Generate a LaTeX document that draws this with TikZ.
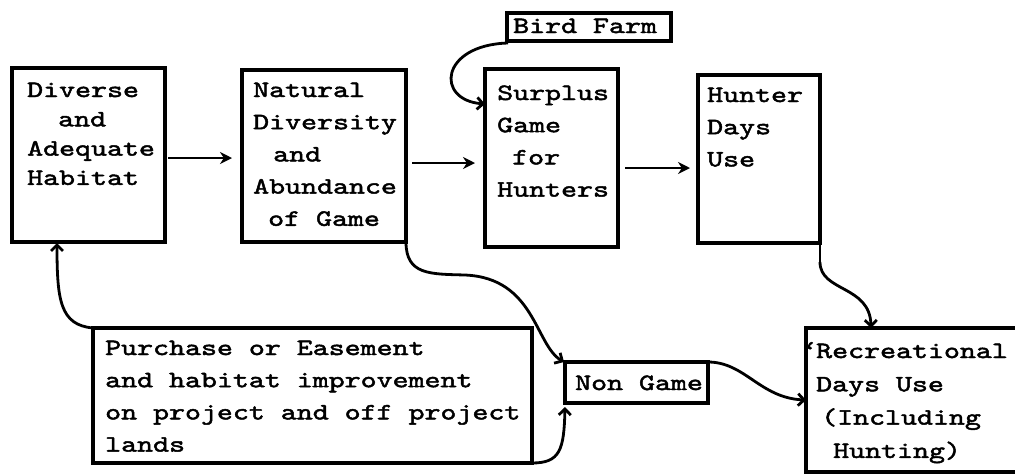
\documentclass[tikz,border=0pt]{standalone}
\usepackage{fontspec}
\newfontfamily\tw[FakeStretch=1.3,FakeBold=2]{lmmono10-regular.otf}
\usetikzlibrary{arrows.meta,calc}
\newcommand\fA{\tw\fontsize{23.4}{29.3}\selectfont}
\newcommand\fB{\tw\fontsize{23.4}{32.2}\selectfont}
\newcommand\fC{\tw\fontsize{23.4}{33.3}\selectfont}
\newcommand\ind[1]{\hspace*{#1pt}}
\newcommand\spc{\hspace{15.97pt}}
\tikzset{
  frame/.style={draw, line width=3.2pt, inner sep=0pt, outer sep=0pt, anchor=north west},
  txt/.style={anchor=base west, inner sep=0pt, align=left, text width=#1},
  conn/.style={line width=2.8pt},
  arr/.style={conn, -{Stealth[length=12pt,width=12pt]}},
  carr/.style={conn, -{Straight Barb[length=6pt,width=12pt]}},
}
\begin{document}
\begin{tikzpicture}[x=1pt,y=-1pt]
\clip (0,0) rectangle (1015,475);
\fill[white] (0,0) rectangle (1015,475);

% frames
\node[frame, minimum width=153pt, minimum height=174pt] (A) at (12,68) {};
\node[frame, minimum width=164pt, minimum height=172pt] (B) at (242,70) {};
\node[frame, minimum width=133pt, minimum height=178pt] (C) at (485,69) {};
\node[frame, minimum width=122pt, minimum height=168pt] (D) at (698,75) {};
\node[frame, minimum width=164pt, minimum height=28pt] (BF) at (507,13) {};
\node[frame, minimum width=439pt, minimum height=135pt] (P) at (93,328) {};
\node[frame, minimum width=143pt, minimum height=41pt] (N) at (565,362) {};
\node[frame, minimum width=230pt, minimum height=144pt] (R) at (806,328) {};

% texts
\node[txt=135pt, font=\fA] (tA) at (27,97) {Diverse\\\ind{31}and\\Adequate\\Habitat};
\node[txt=150pt, font=\fB] (tB) at (253,97) {Natural\\Diversity\\\ind{20}and\\Abundance\\\ind{15}of\spc Game};
\node[txt=120pt, font=\fB] (tC) at (497,100) {Surplus\\Game\\\ind{15}for\\Hunters};
\node[txt=110pt, font=\fB] (tD) at (707,102) {Hunter\\Days\\Use};
\node[txt=155pt, font=\fB] (tBF) at (513,33) {Bird\spc Farm};
\node[txt=430pt, font=\fB] (tP) at (105,355) {Purchase\spc or\spc Easement\\and\spc habitat\spc improvement\\on\spc project\spc and\spc off\spc project\\lands};
\node[txt=135pt, font=\fB] (tN) at (575,390) {Non\spc Game};
\node[txt=196pt, font=\fC] (tR) at (816,358) {\llap{‘\kern-2pt}Recreational\\Days\spc Use\\\ind{5}(Including\\\ind{17}Hunting)};

% straight arrows
\draw[arr] ($(A.east)+(3,3)$) -- ($(B.west)+(-10,2)$);
\draw[arr] ($(B.east)+(6,7)$) -- ($(C.west)+(-10,5)$);
\draw[arr] ($(C.east)+(7,10)$) -- ($(D.west)+(-8,9)$);

% curved connectors
\draw[carr] ($(BF.south west)+(1,2)$) .. controls (440,45) and (435,100) .. ($(C.north west)+(0,35)$);
\draw[carr] (B.south east) .. controls (406,275) and (430,274) .. (465,275)
            .. controls (535,278) and (535,345) .. ($(N.north west)+(-1,0)$);
\draw[carr] (P.south east) .. controls (560,463) and (564,450) .. ($(N.south west)+(0,4)$);
\draw[carr] (P.north west) .. controls (60,325) and (57,300) .. ($(A.south west)+(45,1)$);
\draw[conn] (D.south east) -- (820,262);
\draw[carr] (820,262) .. controls (820,292) and (870,285) .. ($(R.north west)+(65,0)$);
\draw[carr] (N.north east) .. controls (745,362) and (760,398) .. ($(R.north west)+(0,72)$);
\end{tikzpicture}
\end{document}
